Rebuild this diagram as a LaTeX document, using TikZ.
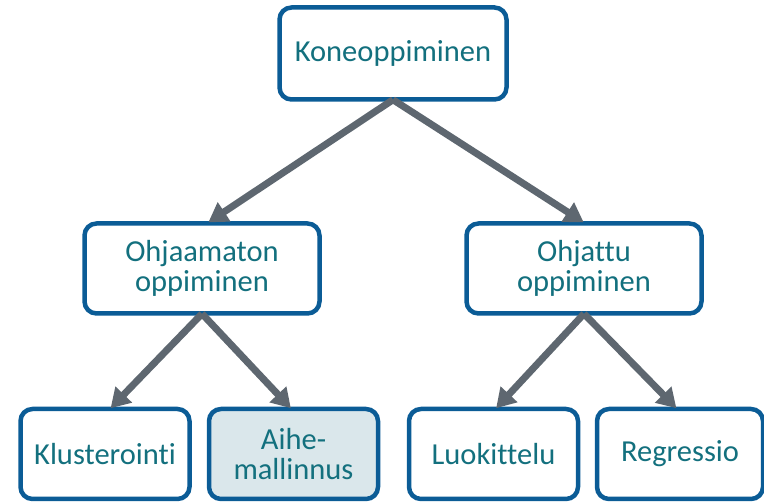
\documentclass[tikz,border=0pt]{standalone}
\usepackage{fontspec}
\setmainfont{Carlito}[Ligatures={NoCommon}]
\usetikzlibrary{arrows.meta}
\definecolor{boxblue}{HTML}{0B5C96}
\definecolor{txtteal}{HTML}{13707E}
\definecolor{arrgray}{HTML}{5E6770}
\definecolor{hlfill}{HTML}{DAE7EB}
\tikzset{
  mbox/.style={draw=boxblue, line width=4.5pt, rounded corners=12pt, fill=white,
    text=txtteal, font=\fontsize{30.5}{30}\selectfont, align=center,
    inner sep=0pt},
  arr/.style={draw=arrgray, line width=7pt, -{Triangle[length=19pt,width=22pt]}, shorten >=-2pt}
}
\begin{document}
\begin{tikzpicture}[x=1pt,y=-1pt]
\useasboundingbox (0,0) rectangle (764,502);
\node[mbox, minimum width=227pt, minimum height=92pt] (top) at (393,53.5) {\raisebox{-2pt}{Koneoppiminen}};
\node[mbox, minimum width=235pt, minimum height=90pt] (uns) at (202,268.5) {\raisebox{-2pt}{Ohjaamaton}\\\raisebox{-2pt}{oppiminen}};
\node[mbox, minimum width=235pt, minimum height=90pt] (sup) at (584,268.5) {\raisebox{-2pt}{Ohjattu}\\\raisebox{-2pt}{oppiminen}};
\node[mbox, minimum width=169pt, minimum height=90pt] (klu) at (105,454) {\raisebox{-2pt}{Klusterointi}};
\node[mbox, minimum width=169pt, minimum height=90pt, fill=hlfill] (aih) at (293.5,454) {\raisebox{-2pt}{Aihe-}\\\raisebox{-2pt}{mallinnus}};
\node[mbox, minimum width=169pt, minimum height=90pt] (luo) at (493.5,454) {\raisebox{-2pt}{Luokittelu}};
\node[mbox, minimum width=166pt, minimum height=90pt] (reg) at (680,454) {\raisebox{-2pt}{Regressio}};
\draw[arr] ([yshift=2pt]top.south) -- ([xshift=8pt]uns.north);
\draw[arr] ([yshift=2pt]top.south) -- ([xshift=-2pt]sup.north);
\draw[arr] ([yshift=2pt]uns.south) -- ([xshift=7pt]klu.north);
\draw[arr] ([yshift=2pt]uns.south) -- ([xshift=-4pt]aih.north);
\draw[arr] ([yshift=2pt]sup.south) -- ([xshift=4pt]luo.north);
\draw[arr] ([yshift=2pt]sup.south) -- ([xshift=-5pt]reg.north);
\end{tikzpicture}
\end{document}
